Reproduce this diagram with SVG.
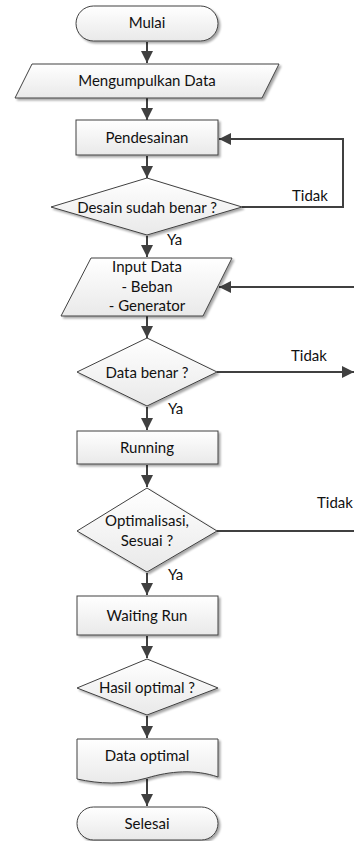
<svg xmlns="http://www.w3.org/2000/svg" width="354" height="841" viewBox="0 0 354 841">
  <defs>
    <linearGradient id="fillGrad" x1="0" y1="0" x2="0" y2="1">
      <stop offset="0" stop-color="#ffffff"/>
      <stop offset="1" stop-color="#e9e9e9"/>
    </linearGradient>
    <filter id="shadow" x="-10%" y="-10%" width="130%" height="140%">
      <feGaussianBlur in="SourceAlpha" stdDeviation="1"/>
      <feOffset dx="2" dy="2" result="blur"/>
      <feComponentTransfer><feFuncA type="linear" slope="0.35"/></feComponentTransfer>
      <feMerge><feMergeNode/><feMergeNode in="SourceGraphic"/></feMerge>
    </filter>
    <marker id="arrow" markerUnits="userSpaceOnUse" markerWidth="13" markerHeight="13" refX="12" refY="6.5" orient="auto">
      <path d="M0,0.5 L12,6.5 L0,12.5 z" fill="#404040"/>
    </marker>
  </defs>
  <style>
    .shape { fill: url(#fillGrad); stroke: #404040; stroke-width: 1; filter: url(#shadow); }
    .lbl { font-family: Lato, "Open Sans", "Liberation Sans", sans-serif; font-size: 15px; fill: #111111; text-anchor: middle; }
    .tag { font-family: Lato, "Open Sans", "Liberation Sans", sans-serif; font-size: 15px; fill: #111111; }
    .edge { fill: none; stroke: #404040; stroke-width: 2; }
  </style>

  <!-- connectors -->
  <g id="connectors">
    <path class="edge" d="M147,42 V63" marker-end="url(#arrow)"/>
    <path class="edge" d="M147,98 V120" marker-end="url(#arrow)"/>
    <path class="edge" d="M147,156 V178" marker-end="url(#arrow)"/>
    <path class="edge" d="M242,207 H343 V139 H219" marker-end="url(#arrow)"/>
    <path class="edge" d="M147,236 V257" marker-end="url(#arrow)"/>
    <path class="edge" d="M356,287 H219" marker-end="url(#arrow)"/>
    <path class="edge" d="M147,316 V338" marker-end="url(#arrow)"/>
    <path class="edge" d="M217,372 H354" marker-end="url(#arrow)"/>
    <path class="edge" d="M147,407 V430" marker-end="url(#arrow)"/>
    <path class="edge" d="M147,465 V487" marker-end="url(#arrow)"/>
    <path class="edge" d="M217,531 H356"/>
    <path class="edge" d="M147,573 V595" marker-end="url(#arrow)"/>
    <path class="edge" d="M147,636 V658" marker-end="url(#arrow)"/>
    <path class="edge" d="M147,716 V738" marker-end="url(#arrow)"/>
    <path class="edge" d="M147,779 V806" marker-end="url(#arrow)"/>

    <text class="tag" x="292" y="201">Tidak</text>
    <text class="tag" x="167" y="245">Ya</text>
    <text class="tag" x="291" y="361">Tidak</text>
    <text class="tag" x="168" y="414">Ya</text>
    <text class="tag" x="317" y="508">Tidak</text>
    <text class="tag" x="168" y="580">Ya</text>
  </g>

  <g id="mulai">
    <rect class="shape" x="76" y="6" width="142" height="35" rx="17.5" ry="17.5"/>
    <text class="lbl" x="147" y="28">Mulai</text>
  </g>

  <g id="mengumpulkan-data">
    <polygon class="shape" points="32,64 279,64 262,98 15,98"/>
    <text class="lbl" x="147" y="86">Mengumpulkan Data</text>
  </g>

  <g id="pendesainan">
    <rect class="shape" x="76" y="120" width="142" height="35"/>
    <text class="lbl" x="147" y="143">Pendesainan</text>
  </g>

  <g id="desain-benar">
    <polygon class="shape" points="147,178 242,207 147,235 51,207"/>
    <text class="lbl" x="147" y="213">Desain sudah benar ?</text>
  </g>

  <g id="input-data">
    <polygon class="shape" points="91,258 232,258 203,316 61,316"/>
    <text class="lbl" x="147" y="272">Input Data</text>
    <text class="lbl" x="147" y="292">- Beban</text>
    <text class="lbl" x="147" y="311">- Generator</text>
  </g>

  <g id="data-benar">
    <polygon class="shape" points="147,338 217,372 147,406 77,372"/>
    <text class="lbl" x="147" y="378">Data benar ?</text>
  </g>

  <g id="running">
    <rect class="shape" x="77" y="431" width="141" height="33"/>
    <text class="lbl" x="147" y="453">Running</text>
  </g>

  <g id="optimalisasi">
    <polygon class="shape" points="147,488 217,531 147,572 77,531"/>
    <text class="lbl" x="147" y="526">Optimalisasi,</text>
    <text class="lbl" x="147" y="546">Sesuai ?</text>
  </g>

  <g id="waiting-run">
    <rect class="shape" x="77" y="596" width="141" height="39"/>
    <text class="lbl" x="147" y="621">Waiting Run</text>
  </g>

  <g id="hasil-optimal">
    <polygon class="shape" points="147,659 218,688 147,715 77,688"/>
    <text class="lbl" x="147" y="693">Hasil optimal ?</text>
  </g>

  <g id="data-optimal">
    <path class="shape" d="M77,739 H218 V777 C195,769 170,771 147,778 C122,785 100,784 77,779 Z"/>
    <text class="lbl" x="147" y="761">Data optimal</text>
  </g>

  <g id="selesai">
    <rect class="shape" x="77" y="807" width="141" height="33" rx="16.5" ry="16.5"/>
    <text class="lbl" x="147" y="829">Selesai</text>
  </g>
</svg>
